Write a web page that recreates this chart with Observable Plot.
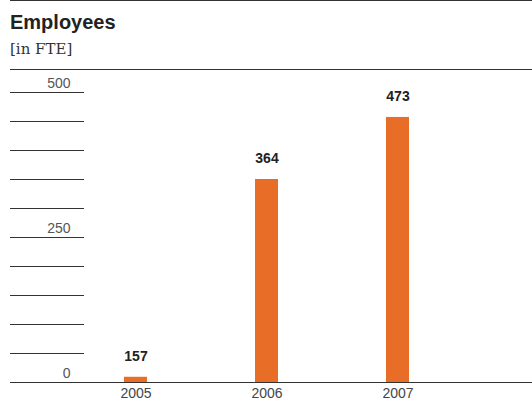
<!DOCTYPE html>
<html>
<head>
<meta charset="utf-8">
<script src="https://cdn.jsdelivr.net/npm/d3@7"></script>
<script src="https://cdn.jsdelivr.net/npm/@observablehq/plot@0.6"></script>
<style>
  html, body { margin: 0; padding: 0; background: #fff; }
  #wrap { width: 532px; position: relative; }
  #head { margin-left: 10px; border-top: 1px solid #333; border-bottom: 1px solid #333; height: 68px; position: relative; }
  #title { position: absolute; left: 0; top: 9px; font: bold 20px "Liberation Sans", Arial, sans-serif; color: #222; line-height: 24px; }
  #sub { position: absolute; left: 0; top: 38px; font: 15px "DejaVu Serif", serif; color: #333; line-height: 20px; }
  svg { display: block; }
</style>
</head>
<body>
<div id="wrap">
  <div id="head">
    <div id="title">Employees</div>
    <div id="sub">[in FTE]</div>
  </div>
  <div id="chart"></div>
</div>
<script>
const years = ["2005", "2006", "2007"];
const barHeights = [9, 350, 457];      // bar heights as drawn in the picture
const valueLabels = [157, 364, 473];    // printed value labels
const gridTicks = d3.range(0, 501, 50);
const labelTicks = [0, 250, 500];

const data = years.map((y, i) => ({year: y, h: barHeights[i], label: String(valueLabels[i])}));

const chart = Plot.plot({
  width: 532,
  height: 337,
  marginLeft: 84,
  marginRight: 0,
  marginTop: 22,
  marginBottom: 25,
  style: {fontFamily: "'Liberation Sans', Arial, sans-serif", background: "#fff"},
  x: {domain: years, range: [69, 463], paddingInner: 0.827, paddingOuter: 0.4135, align: 0.5},
  y: {domain: [0, 500]},
  marks: [
    Plot.axisY({ticks: gridTicks, tickSize: 74, tickFormat: () => "", stroke: "#333", label: null}),
    Plot.axisY({ticks: labelTicks, tickSize: 0, tickPadding: 14, dy: -9, fontSize: 14, fill: "#555", label: null}),
    Plot.ruleY([0], {stroke: "#333"}),
    Plot.barY(data, {x: "year", y: "h", fill: "#e86d27"}),
    Plot.text(data, {x: "year", y: "h", text: "label", dy: -21, fontSize: 14, fontWeight: "bold", fill: "#222"}),
    Plot.axisX({tickSize: 0, tickPadding: 6, fontSize: 14, fill: "#444", label: null})
  ]
});
document.getElementById("chart").appendChild(chart);
</script>
</body>
</html>
